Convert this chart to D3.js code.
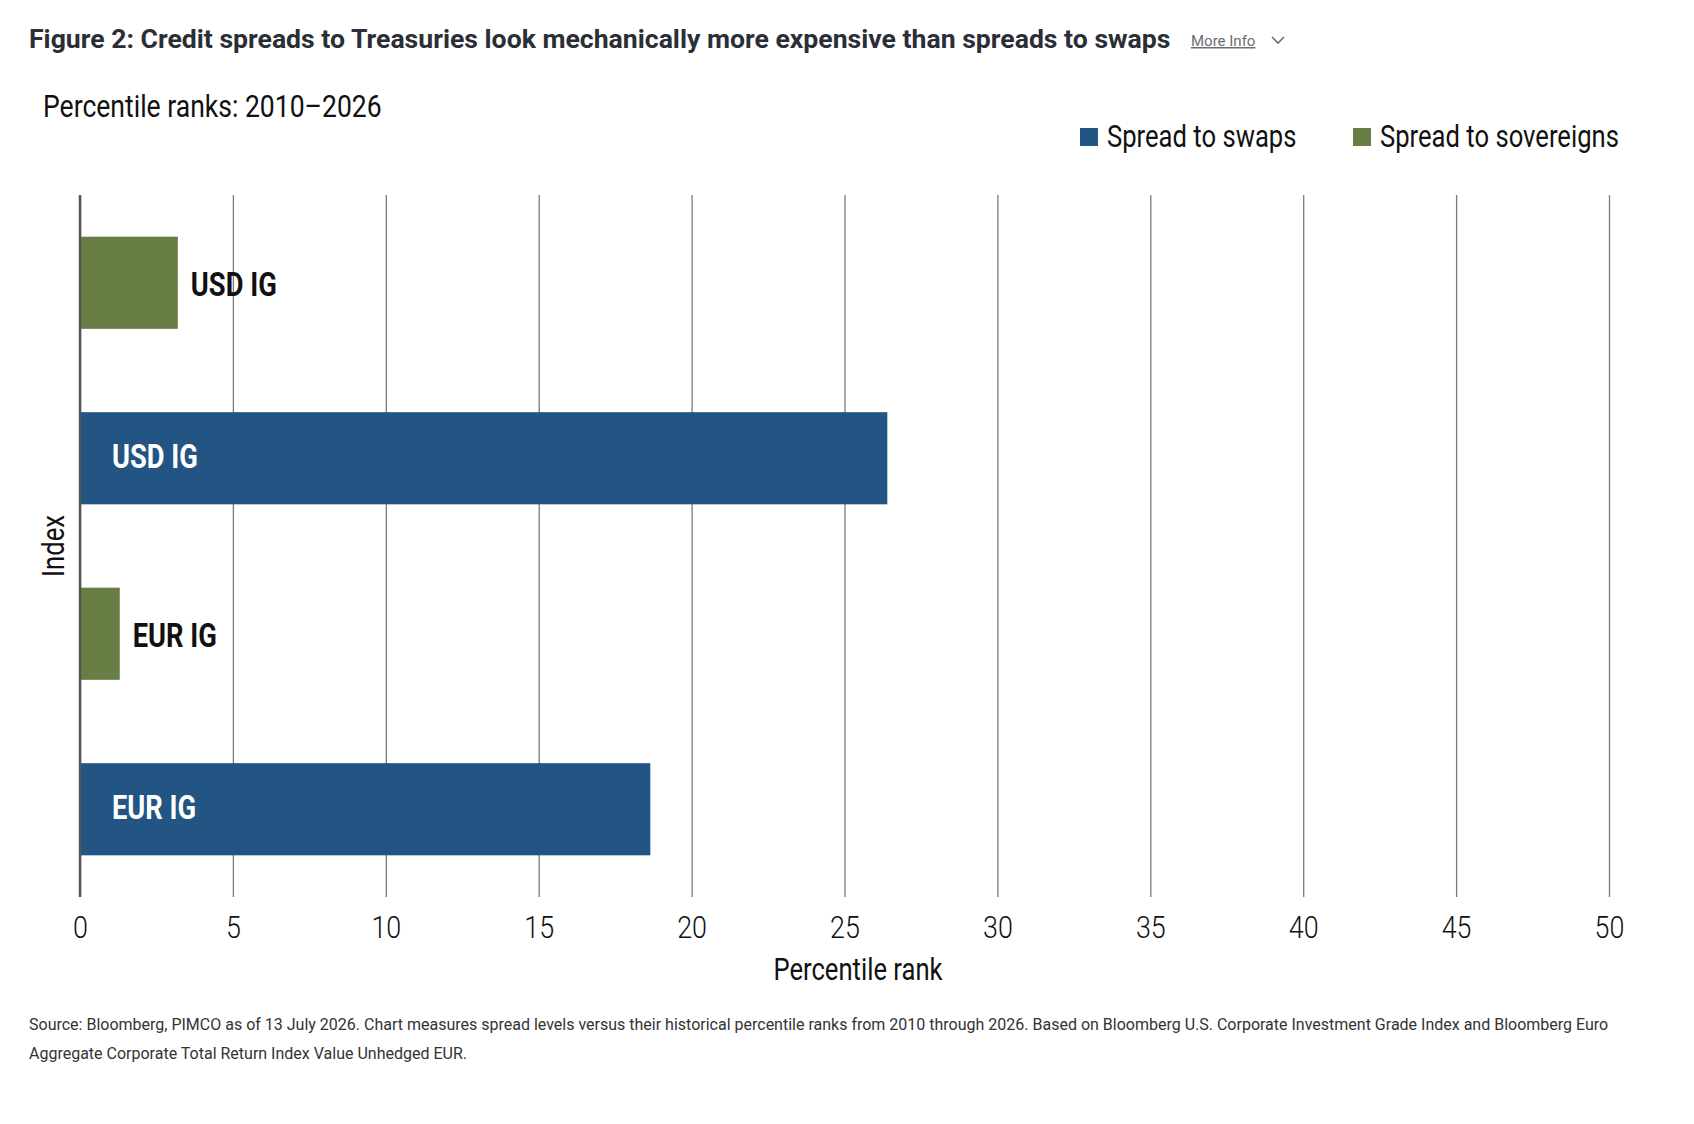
<!DOCTYPE html>
<html>
<head>
<meta charset="utf-8">
<script src="https://cdn.jsdelivr.net/npm/d3@7"></script>
<style>
  body { margin: 0; background: #fff; }
  svg text { font-family: Roboto, "Noto Sans", sans-serif; }
</style>
</head>
<body>
<script>
// values
var barLabels = ["USD IG", "USD IG", "EUR IG", "EUR IG"];
var barSeries = ["Spread to sovereigns", "Spread to swaps", "Spread to sovereigns", "Spread to swaps"];
var barValues = [3.2, 26.4, 1.3, 18.65];
var seriesNames = ["Spread to swaps", "Spread to sovereigns"];
var xTicks = [0, 5, 10, 15, 20, 25, 30, 35, 40, 45, 50];
var footnoteLines = [
    "Source: Bloomberg, PIMCO as of 13 July 2026. Chart measures spread levels versus their historical percentile ranks from 2010 through 2026. Based on Bloomberg U.S. Corporate Investment Grade Index and Bloomberg Euro",
    "Aggregate Corporate Total Return Index Value Unhedged EUR."
];

var W = 1694, H = 1124;
var cond = 0.84; // squeeze Roboto into a condensed look
var plotTop = 195, plotBottom = 897;

var color = d3.scaleOrdinal()
    .domain(seriesNames)
    .range(["#225583", "#687e44"]);

var x = d3.scaleLinear().domain([0, 50]).range([80, 1609]);
var y = d3.scaleBand()
    .domain(d3.range(barValues.length))
    .range([plotTop, plotBottom])
    .paddingInner(0.475)
    .paddingOuter(0.2375);

var svg = d3.select("body").append("svg")
    .attr("width", W)
    .attr("height", H);

// condensed text helper
function ctext(g, px, py, str, size, weight, anchor, fill) {
    return g.append("text")
        .attr("transform", "translate(" + px + "," + py + ") scale(" + cond + ",1)")
        .attr("text-anchor", anchor || "start")
        .attr("dominant-baseline", "central")
        .style("font-size", size + "px")
        .style("font-weight", weight || 400)
        .style("fill", fill || "#111")
        .text(str);
}

// title row
svg.append("text")
    .attr("x", 29).attr("y", 48)
    .style("font-size", "26.6px")
    .style("font-weight", 700)
    .style("fill", "#2b2e36")
    .text("Figure 2: Credit spreads to Treasuries look mechanically more expensive than spreads to swaps");

svg.append("text")
    .attr("x", 1191).attr("y", 46)
    .style("font-size", "15px")
    .style("fill", "#6b6e75")
    .style("text-decoration", "underline")
    .text("More Info");

svg.append("path")
    .attr("d", "M1272,37 L1278,43 L1284,37")
    .attr("fill", "none")
    .attr("stroke", "#6b6e75")
    .attr("stroke-width", 1.6);

ctext(svg, 43, 106, "Percentile ranks: 2010\u20132026", 31.6, 400, "start", "#111");

// legend
var legendX = [1080, 1353];
seriesNames.forEach(function (name, i) {
    svg.append("rect")
        .attr("x", legendX[i]).attr("y", 128)
        .attr("width", 18).attr("height", 18)
        .attr("fill", color(name));
    ctext(svg, legendX[i] + 27, 137, name, 30.5, 400, "start", "#111");
});

// grid + x axis
var xAxis = d3.axisBottom(x)
    .tickValues(xTicks)
    .tickSizeOuter(0);

var gx = svg.append("g")
    .attr("class", "x axis")
    .attr("transform", "translate(0," + plotBottom + ")")
    .call(xAxis);

gx.select(".domain").remove();
gx.selectAll(".tick line")
    .attr("y2", -(plotBottom - plotTop))
    .attr("stroke", "#7a7a7a")
    .attr("stroke-width", 1.3);
gx.selectAll(".tick text")
    .attr("y", 30)
    .attr("dy", null)
    .attr("dominant-baseline", "central")
    .attr("transform", "scale(" + cond + ",1)")
    .style("font-size", "32px")
    .style("font-weight", 300)
    .style("fill", "#111")
    .style("font-family", "Roboto, sans-serif");

ctext(svg, 858, 970, "Percentile rank", 30.5, 400, "middle", "#111");

// y axis title
svg.append("text")
    .attr("transform", "translate(54,546) rotate(-90) scale(" + cond + ",1)")
    .attr("text-anchor", "middle")
    .attr("dominant-baseline", "central")
    .style("font-size", "30.5px")
    .style("fill", "#111")
    .text("Index");

// bars
svg.selectAll("rect.bar")
    .data(barValues)
    .enter().append("rect")
    .attr("class", "bar")
    .attr("x", x(0))
    .attr("y", function (d, i) { return y(i); })
    .attr("width", function (d) { return x(d) - x(0); })
    .attr("height", y.bandwidth())
    .attr("fill", function (d, i) { return color(barSeries[i]); });

// bar labels: inside for swaps, outside for sovereigns
barValues.forEach(function (v, i) {
    var inside = barSeries[i] === "Spread to swaps";
    var lx = inside ? x(0) + 32 : x(v) + 13;
    var ly = y(i) + y.bandwidth() / 2 + (inside ? -2 : 2);
    ctext(svg, lx, ly, barLabels[i], 32.5, 700, "start", inside ? "#fff" : "#111");
});

// y axis line
svg.append("line")
    .attr("x1", x(0)).attr("x2", x(0))
    .attr("y1", plotTop).attr("y2", plotBottom)
    .attr("stroke", "#555")
    .attr("stroke-width", 2.5);

// footnote
footnoteLines.forEach(function (line, i) {
    svg.append("text")
        .attr("x", 29).attr("y", 1030 + i * 29)
        .style("font-size", "16px")
        .style("fill", "#333")
        .text(line);
});
</script>
</body>
</html>
